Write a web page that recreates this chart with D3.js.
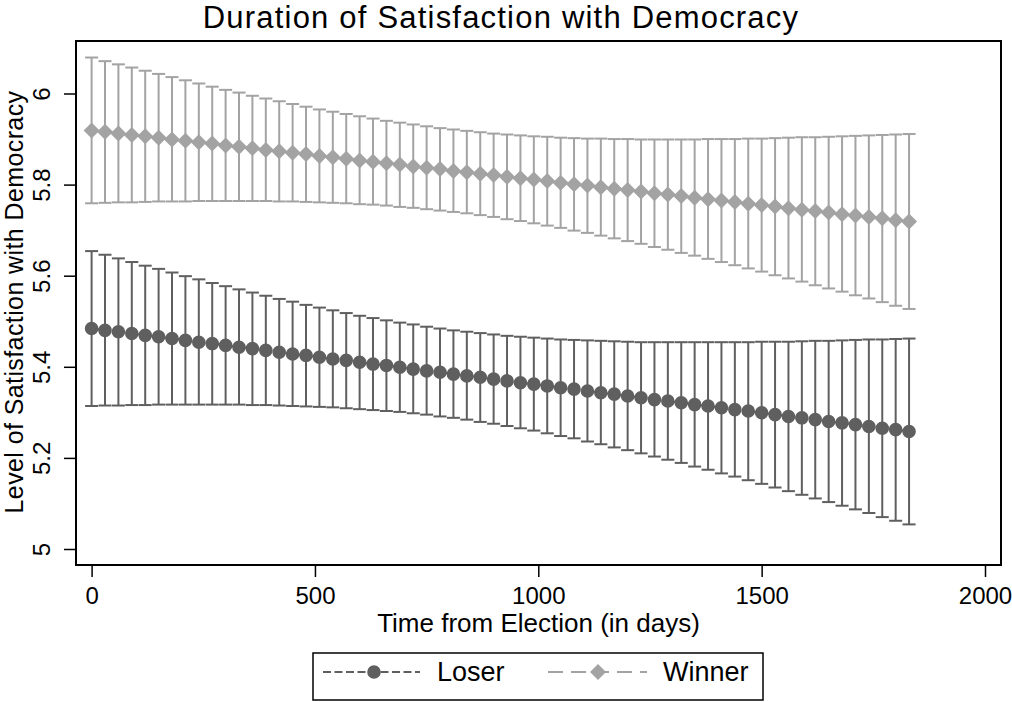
<!DOCTYPE html>
<html>
<head>
<meta charset="utf-8">
<script src="https://cdn.jsdelivr.net/npm/d3@7"></script>
<style>
  body { margin: 0; background: #fff; }
  text { font-family: "Liberation Sans", Arial, sans-serif; fill: #000; }
</style>
</head>
<body>
<div id="chart"></div>
<script>
// days since election (x values)
var days = [0, 30, 60, 90, 120, 150, 180, 210, 240, 270, 300, 330, 360, 390, 420, 450, 480, 510, 540, 570,
  600, 630, 660, 690, 720, 750, 780, 810, 840, 870, 900, 930, 960, 990, 1020, 1050, 1080, 1110, 1140, 1170,
  1200, 1230, 1260, 1290, 1320, 1350, 1380, 1410, 1440, 1470, 1500, 1530, 1560, 1590, 1620, 1650, 1680, 1710, 1740, 1770,
  1800, 1830];

// Winner: predicted value, upper and lower bound
var winnerMean = [5.919, 5.916, 5.912, 5.909, 5.906, 5.903, 5.899, 5.896, 5.893, 5.890, 5.886, 5.883, 5.880, 5.876, 5.873, 5.870, 5.867, 5.863, 5.860, 5.857,
  5.853, 5.850, 5.847, 5.844, 5.840, 5.837, 5.834, 5.830, 5.827, 5.824, 5.821, 5.817, 5.814, 5.811, 5.808, 5.804, 5.801, 5.798, 5.794, 5.791,
  5.788, 5.785, 5.781, 5.778, 5.775, 5.771, 5.768, 5.765, 5.762, 5.758, 5.755, 5.752, 5.748, 5.745, 5.742, 5.739, 5.735, 5.732, 5.729, 5.726,
  5.722, 5.719];
var winnerUpper = [6.079, 6.071, 6.064, 6.057, 6.050, 6.043, 6.036, 6.029, 6.022, 6.015, 6.008, 6.002, 5.995, 5.989, 5.983, 5.977, 5.971, 5.965, 5.960, 5.955,
  5.950, 5.945, 5.940, 5.936, 5.932, 5.928, 5.924, 5.921, 5.918, 5.915, 5.912, 5.910, 5.908, 5.906, 5.905, 5.903, 5.902, 5.901, 5.901, 5.900,
  5.900, 5.899, 5.899, 5.899, 5.899, 5.899, 5.900, 5.900, 5.900, 5.901, 5.901, 5.902, 5.903, 5.904, 5.904, 5.905, 5.906, 5.907, 5.908, 5.909,
  5.910, 5.911];
var winnerLower = [5.759, 5.760, 5.761, 5.761, 5.762, 5.763, 5.763, 5.763, 5.764, 5.764, 5.764, 5.764, 5.764, 5.764, 5.763, 5.763, 5.762, 5.761, 5.760, 5.759,
  5.757, 5.756, 5.754, 5.751, 5.749, 5.746, 5.743, 5.740, 5.737, 5.733, 5.729, 5.724, 5.720, 5.715, 5.710, 5.705, 5.699, 5.694, 5.688, 5.682,
  5.676, 5.670, 5.663, 5.657, 5.650, 5.644, 5.637, 5.630, 5.623, 5.616, 5.609, 5.601, 5.594, 5.587, 5.579, 5.572, 5.565, 5.557, 5.550, 5.542,
  5.534, 5.527];

// Loser: predicted value, upper and lower bound
var loserMean = [5.484, 5.480, 5.477, 5.473, 5.469, 5.466, 5.462, 5.458, 5.454, 5.451, 5.447, 5.443, 5.440, 5.436, 5.432, 5.428, 5.425, 5.421, 5.417, 5.414,
  5.410, 5.406, 5.403, 5.399, 5.395, 5.391, 5.388, 5.384, 5.380, 5.377, 5.373, 5.369, 5.365, 5.362, 5.358, 5.354, 5.351, 5.347, 5.343, 5.340,
  5.336, 5.332, 5.328, 5.325, 5.321, 5.317, 5.314, 5.310, 5.306, 5.303, 5.299, 5.295, 5.291, 5.288, 5.284, 5.280, 5.277, 5.273, 5.269, 5.265,
  5.262, 5.258];
var loserUpper = [5.654, 5.646, 5.638, 5.630, 5.622, 5.615, 5.607, 5.599, 5.592, 5.584, 5.577, 5.570, 5.563, 5.556, 5.549, 5.543, 5.536, 5.530, 5.524, 5.518,
  5.512, 5.507, 5.502, 5.497, 5.493, 5.488, 5.484, 5.480, 5.477, 5.474, 5.471, 5.468, 5.466, 5.464, 5.462, 5.460, 5.459, 5.458, 5.457, 5.456,
  5.455, 5.454, 5.454, 5.454, 5.454, 5.454, 5.454, 5.454, 5.454, 5.454, 5.455, 5.455, 5.455, 5.456, 5.457, 5.457, 5.458, 5.459, 5.460, 5.460,
  5.461, 5.462];
var loserLower = [5.314, 5.315, 5.315, 5.316, 5.316, 5.317, 5.317, 5.317, 5.317, 5.317, 5.317, 5.317, 5.316, 5.316, 5.315, 5.314, 5.313, 5.312, 5.311, 5.309,
  5.307, 5.305, 5.303, 5.301, 5.298, 5.295, 5.291, 5.288, 5.284, 5.279, 5.275, 5.270, 5.265, 5.260, 5.254, 5.248, 5.243, 5.236, 5.230, 5.223,
  5.217, 5.210, 5.203, 5.196, 5.189, 5.181, 5.174, 5.166, 5.159, 5.151, 5.143, 5.135, 5.127, 5.119, 5.111, 5.103, 5.095, 5.087, 5.079, 5.070,
  5.062, 5.054];

var xTicks = [0, 500, 1000, 1500, 2000];
var yTicks = [5, 5.2, 5.4, 5.6, 5.8, 6];
var seriesNames = ["Loser", "Winner"];

var svgWidth = 1012;
var svgHeight = 702;

// plot region (frame)
var plot = {left: 76, right: 1001, top: 41, bottom: 565};

var svg = d3.select("#chart").append("svg")
    .attr("width", svgWidth)
    .attr("height", svgHeight);

var xScale = d3.scaleLinear()
    .domain([0, 2000])
    .range([91.6, 985]);

var yScale = d3.scaleLinear()
    .domain([5, 6])
    .range([549, 93.5]);

// build series rows
function makeRows(mean, lo, hi) {
  return days.map(function(d, i) {
    return {day: d, mean: mean[i], lo: lo[i], hi: hi[i]};
  });
}

var series = [
  {name: seriesNames[0], rows: makeRows(loserMean, loserLower, loserUpper), color: "#5f5f5f", dash: "8,3.5", symbol: "circle"},
  {name: seriesNames[1], rows: makeRows(winnerMean, winnerLower, winnerUpper), color: "#a3a3a3", dash: "15,8", symbol: "diamond"}
];

// frame
svg.append("rect")
    .attr("x", plot.left)
    .attr("y", plot.top)
    .attr("width", plot.right - plot.left)
    .attr("height", plot.bottom - plot.top)
    .attr("fill", "none")
    .attr("stroke", "#000")
    .attr("stroke-width", 2);

// x axis
var xAxis = svg.append("g")
    .attr("transform", `translate(0, ${plot.bottom})`)
    .call(d3.axisBottom(xScale).tickValues(xTicks).tickSize(12).tickFormat(d3.format("d")));
xAxis.select(".domain").remove();
xAxis.selectAll("line").attr("stroke", "#000").attr("stroke-width", 1.5);
xAxis.selectAll("text")
    .attr("y", 39)
    .attr("dy", 0)
    .style("font-size", "24px")
    .style("font-family", "'Liberation Sans', Arial, sans-serif");

// y axis, labels rotated
var yAxis = svg.append("g")
    .attr("transform", `translate(${plot.left}, 0)`)
    .call(d3.axisLeft(yScale).tickValues(yTicks).tickSize(12).tickFormat(d3.format("")));
yAxis.select(".domain").remove();
yAxis.selectAll("line").attr("stroke", "#000").attr("stroke-width", 1.5);
yAxis.selectAll("text")
    .attr("transform", "rotate(-90)")
    .attr("x", 0)
    .attr("y", -26)
    .attr("dy", 0)
    .style("text-anchor", "middle")
    .style("font-size", "24px")
    .style("font-family", "'Liberation Sans', Arial, sans-serif");

// axis titles
svg.append("text")
    .attr("x", (plot.left + plot.right) / 2)
    .attr("y", 632)
    .attr("text-anchor", "middle")
    .style("font-size", "26px")
    .text("Time from Election (in days)");

svg.append("text")
    .attr("transform", "rotate(-90)")
    .attr("x", -302)
    .attr("y", 23)
    .attr("text-anchor", "middle")
    .style("font-size", "25px")
    .style("letter-spacing", "0.4px")
    .text("Level of Satisfaction with Democracy");

// chart title
svg.append("text")
    .attr("x", 501)
    .attr("y", 28)
    .attr("text-anchor", "middle")
    .style("font-size", "31px")
    .style("letter-spacing", "1.2px")
    .text("Duration of Satisfaction with Democracy");

var capHalf = 6.5;
var circleSym = d3.symbol().type(d3.symbolCircle).size(Math.PI * 6.8 * 6.8);
var diamondSym = d3.symbol().type(d3.symbolSquare).size(128);

series.forEach(function(s) {
  var g = svg.append("g");

  // error bar stems
  g.selectAll(".stem")
      .data(s.rows)
      .enter()
      .append("line")
      .attr("x1", d => xScale(d.day))
      .attr("x2", d => xScale(d.day))
      .attr("y1", d => yScale(d.hi))
      .attr("y2", d => yScale(d.lo))
      .attr("stroke", s.color)
      .attr("stroke-width", 2);

  // caps
  ["hi", "lo"].forEach(function(k) {
    g.selectAll(".cap-" + k)
        .data(s.rows)
        .enter()
        .append("line")
        .attr("x1", d => xScale(d.day) - capHalf)
        .attr("x2", d => xScale(d.day) + capHalf)
        .attr("y1", d => yScale(d[k]))
        .attr("y2", d => yScale(d[k]))
        .attr("stroke", s.color)
        .attr("stroke-width", 2);
  });

  // connecting dashed line
  var line = d3.line()
      .x(d => xScale(d.day))
      .y(d => yScale(d.mean));
  g.append("path")
      .datum(s.rows)
      .attr("d", line)
      .attr("fill", "none")
      .attr("stroke", s.color)
      .attr("stroke-width", 2)
      .attr("stroke-dasharray", s.dash);

  // markers
  g.selectAll(".mark")
      .data(s.rows)
      .enter()
      .append("path")
      .attr("d", s.symbol === "circle" ? circleSym : diamondSym)
      .attr("transform", d => `translate(${xScale(d.day)}, ${yScale(d.mean)})` + (s.symbol === "circle" ? "" : " rotate(45)"))
      .attr("fill", s.color);
});

// legend
var legend = svg.append("g");
legend.append("rect")
    .attr("x", 313)
    .attr("y", 653)
    .attr("width", 450)
    .attr("height", 47)
    .attr("fill", "#fff")
    .attr("stroke", "#000")
    .attr("stroke-width", 1.5);

var legendItems = [
  {x0: 323, x1: 420, cx: 374, tx: 437},
  {x0: 548, x1: 647, cx: 598, tx: 663}
];

legendItems.forEach(function(item, i) {
  var s = series[i];
  legend.append("line")
      .attr("x1", item.x0)
      .attr("x2", item.x1)
      .attr("y1", 672)
      .attr("y2", 672)
      .attr("stroke", s.color)
      .attr("stroke-width", 2)
      .attr("stroke-dasharray", s.dash);
  legend.append("path")
      .attr("d", s.symbol === "circle" ? circleSym : diamondSym)
      .attr("transform", `translate(${item.cx}, 672)` + (s.symbol === "circle" ? "" : " rotate(45)"))
      .attr("fill", s.color);
  legend.append("text")
      .attr("x", item.tx)
      .attr("y", 681)
      .style("font-size", "27px")
      .text(s.name);
});
</script>
</body>
</html>
